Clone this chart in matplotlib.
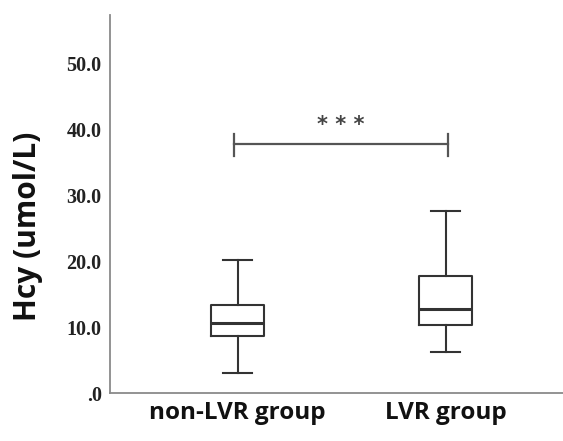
import matplotlib
matplotlib.use("Agg")
import matplotlib.pyplot as plt

groups = ["non-LVR group", "LVR group"]
whisker_low = [3.1, 6.2]
q1 = [8.6, 10.3]
median = [10.65, 12.7]
q3 = [13.3, 17.7]
whisker_high = [20.15, 27.65]
yticks = [0, 10, 20, 30, 40, 50]
ytick_labels = [".0", "10.0", "20.0", "30.0", "40.0", "50.0"]
sig_text = "* * *"
sig_y = 37.8
sig_tick_low = 36.0
sig_tick_high = 39.3

fig = plt.figure(figsize=(5.63, 4.41), dpi=100)
ax = fig.add_axes([0.1954, 0.1088, 0.8046, 0.857])

stats = []
for i, g in enumerate(groups):
    stats.append(dict(label=g, whislo=whisker_low[i], q1=q1[i], med=median[i],
                      q3=q3[i], whishi=whisker_high[i], fliers=[]))

line_col = "#333333"
ax.bxp(stats, positions=[1, 2], widths=0.255, showfliers=False,
       boxprops=dict(color=line_col, linewidth=1.5),
       whiskerprops=dict(color=line_col, linewidth=1.5),
       capprops=dict(color=line_col, linewidth=1.5),
       medianprops=dict(color=line_col, linewidth=2.2),
       capwidths=0.14)

ax.set_xlim(0.386, 2.564)
ax.set_ylim(0, 57.3)

for s in ["top", "right"]:
    ax.spines[s].set_visible(False)
for s in ["left", "bottom"]:
    ax.spines[s].set_color("#8a8a8a")
    ax.spines[s].set_linewidth(1.3)

ax.set_yticks(yticks)
ax.set_yticklabels(ytick_labels, fontfamily="Liberation Serif", fontweight="bold",
                   fontsize=14.5, color="#222222")
ax.tick_params(axis="y", length=0, pad=6)
ax.set_xticks([1, 2])
ax.set_xticklabels(groups, fontfamily="Open Sans", fontweight="bold", fontsize=17.5,
                   color="#111111")
ax.tick_params(axis="x", length=0, pad=6)

ax.set_ylabel("Hcy (umol/L)", fontfamily="Open Sans", fontweight="bold",
              fontsize=21.5, color="#111111")
ax.yaxis.set_label_coords(-0.147, 0.442)

# significance bar
x1 = 0.98
x2 = 2.01
sig_col = "#555555"
ax.plot([x1, x2], [sig_y, sig_y], color=sig_col, linewidth=1.6)
ax.plot([x1, x1], [sig_tick_low, sig_tick_high], color=sig_col, linewidth=1.6)
ax.plot([x2, x2], [sig_tick_low, sig_tick_high], color=sig_col, linewidth=1.6)
ax.text((x1 + x2) / 2, sig_y + 1.3, sig_text, ha="center", va="bottom",
        fontsize=15, fontweight="bold", color="#444444", fontfamily="DejaVu Sans")

fig.savefig("out.png", dpi=100)
